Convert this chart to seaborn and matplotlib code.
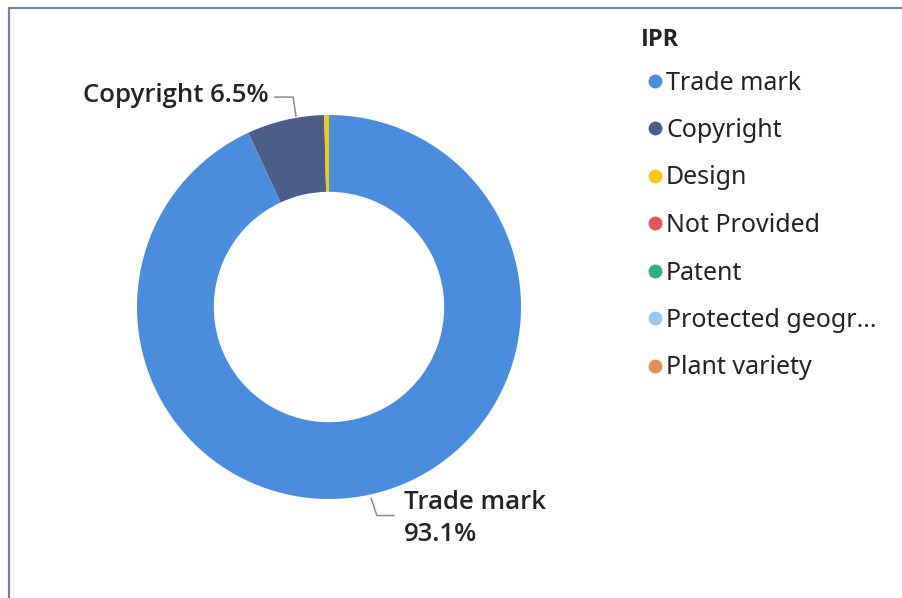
import matplotlib.pyplot as plt
import seaborn as sns
import numpy as np
from matplotlib.lines import Line2D

# Data
categories = ['Trade mark', 'Copyright', 'Design', 'Not Provided', 'Patent',
              'Protected geogr...', 'Plant variety']
shares = [93.1, 6.5, 0.4, 0.0, 0.0, 0.0, 0.0]
colors = ['#4A8DDC', '#4C5D8A', '#F3C911', '#DC5B57', '#33AE81', '#95C8F0', '#DD915F']

sns.set_theme(style='white')
plt.rcParams['font.family'] = ['Noto Sans', 'DejaVu Sans']
palette = sns.color_palette(colors)
text_color = '#252423'

fig = plt.figure(figsize=(9.02, 5.98), dpi=100)
W, H = 902, 598

# donut axes: center (329, 307) px, radius 192 px
cx, cy, r_px = 329, 307, 192
lim = 1.6
size = r_px * lim * 2
ax = fig.add_axes([(cx - size / 2) / W, (H - cy - size / 2) / H, size / W, size / H])

wedges, _ = ax.pie(shares, colors=palette, startangle=90, counterclock=False,
                   radius=1.0, wedgeprops=dict(width=0.4, linewidth=0))
ax.set_xlim(-lim, lim)
ax.set_ylim(-lim, lim)
ax.set_aspect('equal')
ax.axis('off')

# data labels with leader lines
def mid_angle(w):
    return np.deg2rad((w.theta1 + w.theta2) / 2)

line_kw = dict(color='#8a8a8a', lw=1.1, clip_on=False)
lab_kw = dict(fontsize=18.5, fontweight='semibold', family=['Open Sans', 'DejaVu Sans'],
              color=text_color)

# Copyright label
a = mid_angle(wedges[1])
x0, y0 = np.cos(a) * 1.02, np.sin(a) * 1.02
ax.plot([x0 + 0.06, x0 + 0.045, x0 - 0.05], [y0, y0 + 0.1, y0 + 0.1], **line_kw)
ax.text(x0 - 0.08, y0 + 0.11, f'{categories[1]} {shares[1]}%', ha='right', va='center', **lab_kw)

# Trade mark label
a = mid_angle(wedges[0])
x0, y0 = np.cos(a) * 1.02, np.sin(a) * 1.02
ax.plot([x0, x0 + 0.03, x0 + 0.12], [y0, y0 - 0.09, y0 - 0.09], **line_kw)
ax.text(x0 + 0.17, y0 - 0.02, categories[0], ha='left', va='center', **lab_kw)
ax.text(x0 + 0.17, y0 - 0.19, f'{shares[0]}%', ha='left', va='center', **lab_kw)

# legend title and entries
fig.text(641 / W, 1 - 40 / H, 'IPR', ha='left', va='center', fontsize=17,
         fontweight='bold', family=['Open Sans', 'DejaVu Sans'], color=text_color)
handles = [Line2D([0], [0], marker='o', linestyle='', markersize=10,
                  markerfacecolor=c, markeredgewidth=0) for c in palette]
leg = fig.legend(handles, categories, loc='upper left',
                 bbox_to_anchor=(626 / W, 1 - 53 / H), frameon=False,
                 fontsize=18, labelspacing=0.9, borderpad=0.2,
                 handletextpad=0.0, handlelength=0.9, alignment='left',
                 labelcolor=text_color)

# panel border (top and left)
fig.add_artist(Line2D([9 / W, 9 / W], [0, 1 - 8 / H], color='#7482ad', lw=1.6))
fig.add_artist(Line2D([9 / W, 1], [1 - 8 / H, 1 - 8 / H], color='#7482ad', lw=1.6))

fig.savefig('out.png', dpi=100)
